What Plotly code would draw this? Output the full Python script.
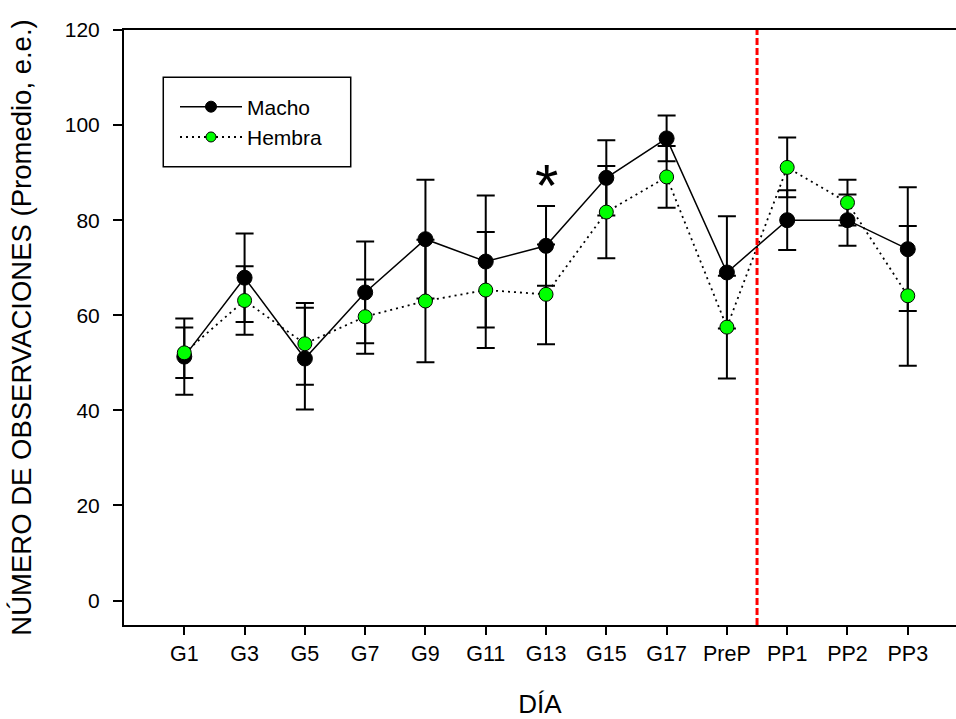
import plotly.graph_objects as go

categories = ["G1", "G3", "G5", "G7", "G9", "G11", "G13", "G15", "G17", "PreP", "PP1", "PP2", "PP3"]
macho_mean = [51.3, 67.9, 50.9, 64.8, 76.0, 71.3, 74.6, 88.9, 97.2, 69.0, 80.0, 80.0, 73.9]
macho_se = [8.0, 9.3, 10.7, 10.7, 12.5, 13.9, 8.4, 7.9, 4.8, 11.8, 6.3, 5.4, 13.0]
hembra_mean = [52.1, 63.1, 54.0, 59.7, 63.0, 65.3, 64.4, 81.7, 89.1, 57.5, 91.1, 83.7, 64.1]
hembra_se = [5.3, 7.2, 8.6, 7.8, 12.9, 12.2, 10.5, 9.7, 6.5, 10.8, 6.3, 4.8, 14.7]
y_ticks = [0, 20, 40, 60, 80, 100, 120]
divider_position = 9.5
star_category = "G13"
star_value = 88.4

FONT = "Arial, Liberation Sans, sans-serif"
MACHO_LINE = dict(color="black", width=1.5)
HEMBRA_LINE = dict(color="black", width=1.8, dash="2px,4px")

fig = go.Figure()

# error bars (drawn underneath the markers)
for mean, se in ((macho_mean, macho_se), (hembra_mean, hembra_se)):
    fig.add_trace(go.Scatter(
        x=categories, y=mean, mode="markers",
        marker=dict(size=0.1, color="rgba(0,0,0,0)"),
        error_y=dict(type="data", array=se, visible=True, color="black",
                     thickness=2, width=9),
        showlegend=False, hoverinfo="skip"))

fig.add_trace(go.Scatter(
    x=categories, y=macho_mean, mode="lines+markers", name="Macho",
    line=MACHO_LINE, showlegend=False,
    marker=dict(symbol="circle", size=15, color="black",
                line=dict(color="black", width=1))))
fig.add_trace(go.Scatter(
    x=categories, y=hembra_mean, mode="lines+markers", name="Hembra",
    line=HEMBRA_LINE, showlegend=False,
    marker=dict(symbol="circle", size=14, color="#00FF00",
                line=dict(color="black", width=1))))

# legend entries (smaller symbols, as in the original key)
fig.add_trace(go.Scatter(
    x=[None], y=[None], mode="lines+markers", name="Macho", line=MACHO_LINE,
    marker=dict(symbol="circle", size=11, color="black",
                line=dict(color="black", width=1))))
fig.add_trace(go.Scatter(
    x=[None], y=[None], mode="lines+markers", name="Hembra", line=HEMBRA_LINE,
    marker=dict(symbol="circle", size=10, color="#00FF00",
                line=dict(color="black", width=1))))

fig.add_shape(type="line", x0=divider_position, x1=divider_position, xref="x",
              y0=0, y1=1, yref="paper", layer="above",
              line=dict(color="#FF0000", width=3, dash="7px,3px"))

# legend frame
fig.add_shape(type="rect", xref="paper", yref="paper",
              x0=0.0472, x1=0.2725, y0=0.7703, y1=0.9205,
              line=dict(color="black", width=1.5), fillcolor="rgba(0,0,0,0)")

fig.add_annotation(x=star_category, y=star_value, xref="x", yref="y",
                   text="*", showarrow=False,
                   font=dict(family=FONT, size=60, color="black"),
                   yanchor="middle", yshift=-5)

fig.update_layout(
    width=956, height=719,
    margin=dict(l=124, r=0, t=30, b=94, autoexpand=False),
    paper_bgcolor="white", plot_bgcolor="white",
    font=dict(family=FONT, color="black", size=21),
    showlegend=True,
    legend=dict(x=0.0613, y=0.905, xanchor="left", yanchor="top",
                bgcolor="rgba(0,0,0,0)", borderwidth=0,
                font=dict(family=FONT, size=21, color="black"),
                itemwidth=62, tracegroupgap=0),
    xaxis=dict(
        type="category", categoryorder="array", categoryarray=categories,
        range=[-1, 12.8], showline=True, linecolor="black", linewidth=2,
        mirror=True, ticks="outside", ticklen=8, tickwidth=2, tickcolor="black",
        showgrid=False, zeroline=False, automargin=False,
        tickfont=dict(family=FONT, size=21.5, color="black"),
        title=dict(text="DÍA", standoff=37,
                   font=dict(family=FONT, size=26, color="black"))),
    yaxis=dict(
        range=[-5.15, 120], tickvals=y_ticks, showline=True, linecolor="black",
        linewidth=2, ticks="outside", ticklen=9, tickwidth=2, tickcolor="black",
        showgrid=False, zeroline=False, automargin=False,
        ticklabelstandoff=9,
        tickfont=dict(family=FONT, size=21, color="black"),
        title=dict(text="NÚMERO DE OBSERVACIONES (Promedio, e.e.)", standoff=25,
                   font=dict(family=FONT, size=27.5, color="black"))),
)

fig.write_html("out.html")
